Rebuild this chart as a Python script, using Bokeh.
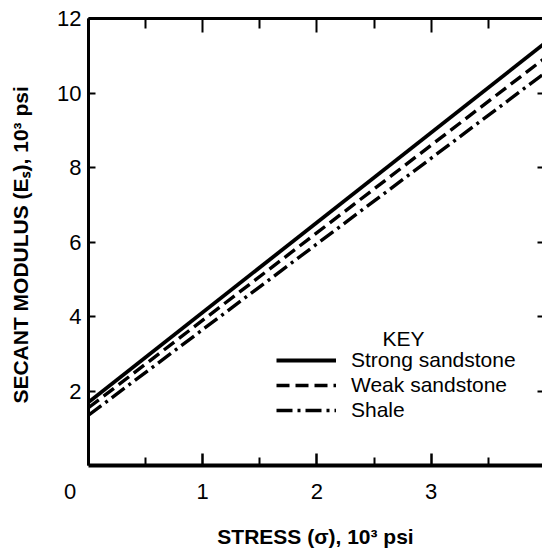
from bokeh.plotting import figure
from bokeh.models import (LinearAxis, FixedTicker, Legend, LegendItem, Label,
                          ColumnDataSource, Range1d)
from bokeh.embed import file_html
from bokeh.resources import INLINE

# ---- data ----
stress = [0.0, 4.0]                      # 10^3 psi
strong_sandstone = [1.70, 11.35]         # secant modulus, 10^3 psi
weak_sandstone = [1.55, 10.95]
shale = [1.35, 10.55]

series_names = ["Strong sandstone", "Weak sandstone", "Shale"]
x_ticks = [0, 1, 2, 3, 4]
x_minor = [0.5, 1.5, 2.5, 3.5]
y_ticks = [2, 4, 6, 8, 10, 12]

FONT = "Liberation Sans"

p = figure(width=542, height=550, output_backend="svg", toolbar_location=None,
           x_range=Range1d(0, 3.974), y_range=Range1d(0, 12),
           x_axis_location=None, y_axis_location=None,
           min_border_left=88, min_border_right=0, min_border_top=18,
           min_border_bottom=85, outline_line_color=None,
           background_fill_color="white", border_fill_color="white")
p.grid.visible = False

src = ColumnDataSource(dict(x=stress, s=strong_sandstone, w=weak_sandstone, sh=shale))
r1 = p.line("x", "s", source=src, line_color="black", line_width=3.8)
r2 = p.line("x", "w", source=src, line_color="black", line_width=3.4, line_dash="13 6")
r3 = p.line("x", "sh", source=src, line_color="black", line_width=3.4, line_dash="16 5 3 5")

# bottom axis; the origin "0" sits left of the corner (padded with no-break spaces)
xb = LinearAxis(ticker=FixedTicker(ticks=x_ticks, minor_ticks=x_minor),
                major_label_overrides={0: "0" + "\u00a0" * 6},
                axis_line_width=4, axis_line_color="black",
                major_tick_in=12, major_tick_out=0, major_tick_line_width=2.5,
                minor_tick_in=8, minor_tick_out=0, minor_tick_line_width=2,
                major_label_standoff=13,
                major_label_text_font=FONT, major_label_text_font_size="22px",
                major_label_text_color="black",
                axis_label="STRESS (σ), 10³ psi", axis_label_standoff=18,
                axis_label_text_font=FONT, axis_label_text_font_size="21px",
                axis_label_text_font_style="bold", axis_label_text_color="black")
p.add_layout(xb, "below")

# top axis (frame)
xt = LinearAxis(ticker=FixedTicker(ticks=x_ticks, minor_ticks=x_minor),
                major_label_overrides={t: "" for t in x_ticks},
                axis_line_width=3, axis_line_color="black",
                major_tick_in=14, major_tick_out=0, major_tick_line_width=2,
                minor_tick_in=10, minor_tick_out=0, minor_tick_line_width=2)
p.add_layout(xt, "above")

# left axis
yl = LinearAxis(ticker=FixedTicker(ticks=y_ticks, minor_ticks=[]),
                axis_line_width=3, axis_line_color="black",
                major_tick_in=7, major_tick_out=0, major_tick_line_width=2,
                major_label_standoff=7,
                major_label_text_font=FONT, major_label_text_font_size="22px",
                major_label_text_color="black",
                axis_label="SECANT  MODULUS (Eₛ), 10³ psi", axis_label_standoff=22,
                axis_label_text_font=FONT, axis_label_text_font_size="21px",
                axis_label_text_font_style="bold", axis_label_text_color="black")
p.add_layout(yl, "left")

# right axis (only its inward ticks are visible at the window edge)
yr = LinearAxis(ticker=FixedTicker(ticks=y_ticks[:-1], minor_ticks=[]),
                major_label_overrides={t: "" for t in y_ticks},
                axis_line_alpha=0,
                major_tick_in=5, major_tick_out=0, major_tick_line_width=2)
p.add_layout(yr, "right")

# legend
legend = Legend(items=[LegendItem(label=series_names[0], renderers=[r1]),
                       LegendItem(label=series_names[1], renderers=[r2]),
                       LegendItem(label=series_names[2], renderers=[r3])],
                location=(188, 43), glyph_width=60, glyph_height=20,
                label_standoff=15, spacing=1, padding=0, margin=0,
                border_line_color=None, background_fill_alpha=0,
                label_text_font=FONT, label_text_font_size="21px",
                label_text_color="black")
p.add_layout(legend)
p.add_layout(Label(x=403 - 88, y=465 - 338, x_units="screen", y_units="screen",
                   text="KEY", text_align="center", text_baseline="alphabetic",
                   text_font=FONT, text_font_size="21px", text_color="black"))

open("out.html", "w").write(file_html(p, INLINE))
